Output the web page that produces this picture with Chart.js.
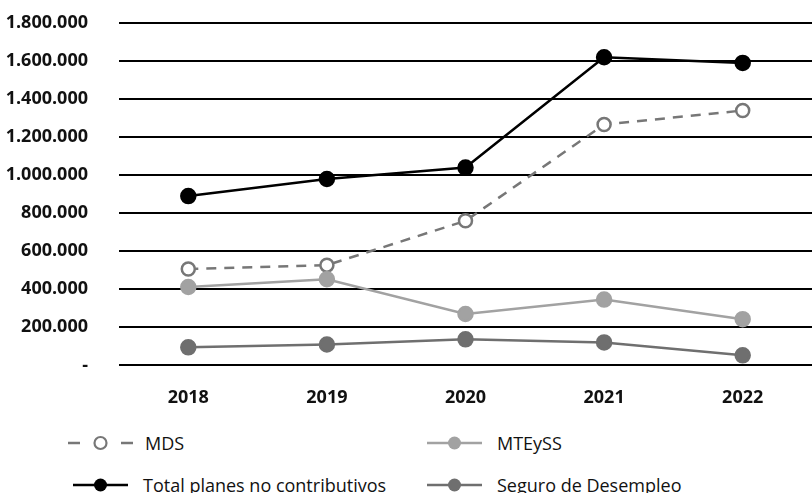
<!DOCTYPE html>
<html>
<head>
<meta charset="utf-8">
<script src="https://cdn.jsdelivr.net/npm/chart.js@4"></script>
<style>
  html, body { margin: 0; padding: 0; background: #fff; overflow: hidden; }
  #wrap { position: relative; width: 812px; height: 493px; overflow: hidden; }
  #c { position: absolute; left: 0; top: 0; }
  .lg { position: absolute; font: 18px "Open Sans", sans-serif; color: #111; display: flex; align-items: center; white-space: nowrap; height: 24px; }
</style>
</head>
<body>
<div id="wrap">
  <canvas id="c" width="812" height="431" style="width:812px;height:431px"></canvas>
  <div id="legend"></div>
</div>
<script>
'use strict';
// Años y series (personas)
const YEARS = ['2018', '2019', '2020', '2021', '2022'];
const TOTAL = [890000, 980000, 1040000, 1620000, 1590000];
const MDS = [507000, 527000, 760000, 1266000, 1340000];
const MTEYSS = [412000, 453000, 270000, 346000, 243000];
const SEGURO = [95000, 110000, 137000, 121000, 53000];
const Y_TICKS = [0, 200000, 400000, 600000, 800000, 1000000, 1200000, 1400000, 1600000, 1800000];

const fNum = v => v === 0 ? '-' : String(Math.round(v)).replace(/\B(?=(\d{3})+(?!\d))/g, '.');
const FONT = '"Open Sans", sans-serif';

const ds = (label, data, color, extra) => Object.assign({
  label, data, borderColor: color, backgroundColor: color, pointBackgroundColor: color,
  pointBorderColor: color, borderWidth: 2.5, pointRadius: 7, pointHoverRadius: 7, tension: 0,
}, extra || {});

new Chart(document.getElementById('c').getContext('2d'), {
  type: 'line',
  data: {
    labels: YEARS,
    datasets: [
      ds('Seguro de Desempleo', SEGURO, '#6f6f6f'),
      ds('MTEySS', MTEYSS, '#a2a2a2'),
      ds('MDS', MDS, '#777777', { borderDash: [10, 8], pointBackgroundColor: '#fff', pointBorderWidth: 2.5, pointRadius: 6.5 }),
      ds('Total planes no contributivos', TOTAL, '#000000'),
    ],
  },
  options: {
    responsive: false, animation: false,
    layout: { autoPadding: false, padding: 0 },
    plugins: { legend: { display: false }, tooltip: { enabled: false } },
    scales: {
      x: {
        offset: true,
        grid: { display: false, drawTicks: false },
        border: { display: false },
        ticks: { color: '#111', padding: 22, font: { family: FONT, size: 18, weight: 'bold' } },
      },
      y: {
        min: 0, max: 1800000,
        afterBuildTicks: a => { a.ticks = Y_TICKS.map(v => ({ value: v })); },
        // ancho fijo del eje y margen superior del área (el padding de ticks no debe empujar el área)
        afterFit: a => { a.width = 119; a.paddingTop = 23; a.paddingBottom = 11; },
        grid: { color: '#000', lineWidth: 2, drawTicks: false },
        border: { display: false },
        ticks: { color: '#111', padding: 31, callback: fNum, font: { family: FONT, size: 18, weight: 'bold' } },
      },
    },
  },
});

// Leyenda en dos columnas
const LEGEND = [
  { label: 'MDS', color: '#777777', dash: true, open: true, x: 68, y: 443 },
  { label: 'MTEySS', color: '#a2a2a2', x: 427, y: 443 },
  { label: 'Total planes no contributivos', color: '#000000', x: 73, y: 485 },
  { label: 'Seguro de Desempleo', color: '#6f6f6f', x: 427, y: 485 },
];
document.getElementById('legend').innerHTML = LEGEND.map(l => {
  const w = l.dash ? 65 : 55, cx = w / 2, gap = l.dash ? 12 : 15;
  const line = l.dash
    ? `<line x1="0" y1="10" x2="12" y2="10" stroke="${l.color}" stroke-width="2.5"/><line x1="${w - 12}" y1="10" x2="${w}" y2="10" stroke="${l.color}" stroke-width="2.5"/>`
    : `<line x1="0" y1="10" x2="${w}" y2="10" stroke="${l.color}" stroke-width="2.5"/>`;
  const dot = l.open
    ? `<circle cx="${cx}" cy="10" r="6" fill="#fff" stroke="${l.color}" stroke-width="2.2"/>`
    : `<circle cx="${cx}" cy="10" r="6.5" fill="${l.color}"/>`;
  return `<div class="lg" style="left:${l.x}px;top:${l.y - 12}px"><svg width="${w}" height="20" style="margin-right:${gap}px">${line}${dot}</svg>${l.label}</div>`;
}).join('');
</script>
</body>
</html>
